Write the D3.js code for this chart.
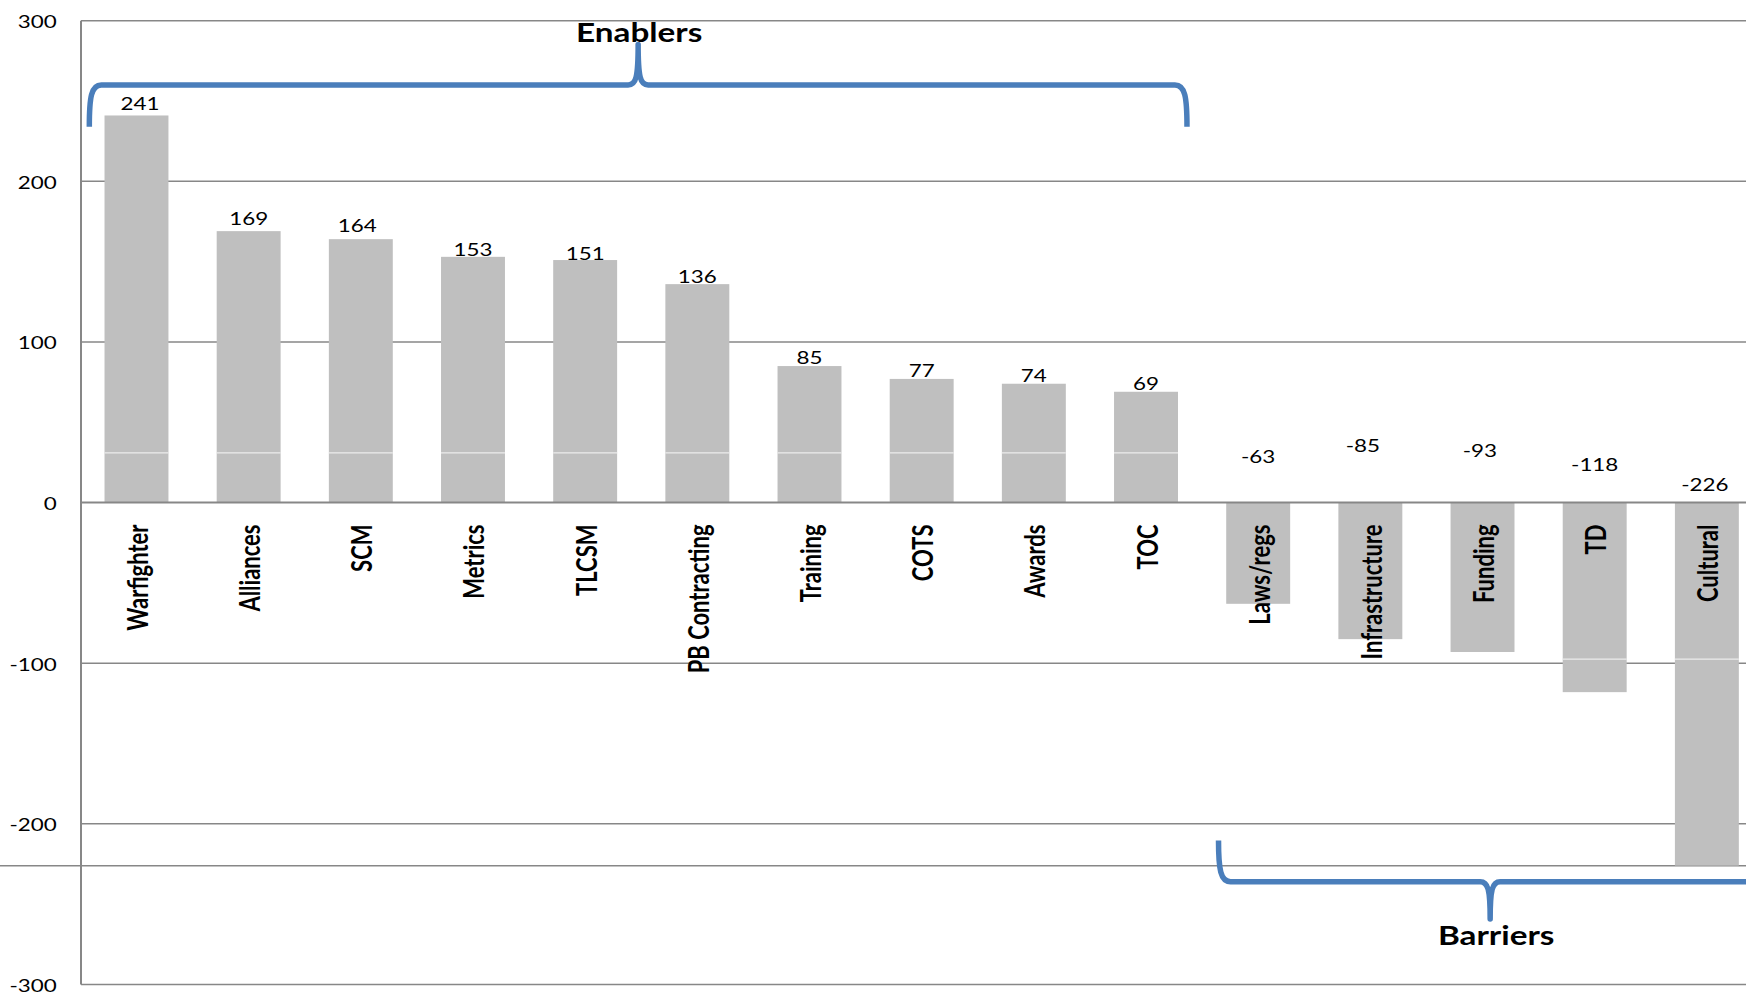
<!DOCTYPE html>
<html>
<head>
<meta charset="utf-8">
<script src="https://cdn.jsdelivr.net/npm/d3@7"></script>
<style>
  html, body { margin: 0; padding: 0; background: #fff; }
  svg { display: block; }
</style>
</head>
<body>
<svg id="chart" width="1746" height="995"></svg>
<script>
// Net score per factor: enablers are positive, barriers negative
const categories = ["Warfighter", "Alliances", "SCM", "Metrics", "TLCSM", "PB Contracting",
  "Training", "COTS", "Awards", "TOC", "Laws/regs", "Infrastructure", "Funding", "TD", "Cultural"];
const values = [241, 169, 164, 153, 151, 136, 85, 77, 74, 69, -63, -85, -93, -118, -226];
const yTicks = [300, 200, 100, 0, -100, -200, -300];

// Bracketed groups
const groupNames = ["Enablers", "Barriers"];
const groupFirst = ["Warfighter", "Laws/regs"];
const groupLast = ["TOC", "Cultural"];

const W = 1746, H = 995;
const STRETCH = 1.28;          // text is drawn horizontally widened
const FONT = "Lato, 'Open Sans', 'DejaVu Sans', sans-serif";
const BAR = "#bfbfbf", GRID = "#878787", BRACE = "#4a7ebb";

const svg = d3.select("#chart");

const step = 112.17, left = 80.4;
const x = d3.scaleBand()
  .domain(categories)
  .range([left, left + categories.length * step])
  .paddingInner(0.43)
  .paddingOuter(0.215);
const bw = x.bandwidth();
const y = d3.scaleLinear().domain([-300, 300]).range([984.5, 20.7]);
const axisX = 81;

// Horizontal gridlines
svg.append("g").selectAll("line")
  .data(yTicks.filter(d => d !== 0))
  .join("line")
  .attr("x1", axisX).attr("x2", W)
  .attr("y1", d => y(d)).attr("y2", d => y(d))
  .attr("stroke", GRID).attr("stroke-width", 1.5);

// Reference line level with the lowest bar, running the full width
const low = d3.min(values);
svg.append("line")
  .attr("x1", 0).attr("x2", W)
  .attr("y1", y(low)).attr("y2", y(low))
  .attr("stroke", GRID).attr("stroke-width", 1.5);

// Bars
const bars = svg.append("g").selectAll("g")
  .data(categories.map((c, i) => ({ c, v: values[i], i })))
  .join("g");

bars.append("rect")
  .attr("x", d => x(d.c))
  .attr("width", bw)
  .attr("y", d => y(Math.max(0, d.v)))
  .attr("height", d => Math.abs(y(d.v) - y(0)))
  .attr("fill", BAR);

// faint light seams across the bars
const seams = [31, -97.5];
bars.each(function (d) {
  const g = d3.select(this);
  seams.filter(s => (s > 0 && d.v > s) || (s < 0 && d.v < s)).forEach(s => {
    g.append("line")
      .attr("x1", x(d.c)).attr("x2", x(d.c) + bw)
      .attr("y1", y(s)).attr("y2", y(s))
      .attr("stroke", "#ececec").attr("stroke-width", 1.2);
  });
});

// Vertical axis and zero line
svg.append("line")
  .attr("x1", axisX).attr("x2", axisX)
  .attr("y1", y(300)).attr("y2", y(-300))
  .attr("stroke", GRID).attr("stroke-width", 2);
svg.append("line")
  .attr("x1", axisX).attr("x2", W)
  .attr("y1", y(0)).attr("y2", y(0))
  .attr("stroke", GRID).attr("stroke-width", 2);

// Y tick labels
const yAxis = d3.axisLeft(y).tickValues(yTicks).tickSize(0).tickPadding(0)
  .tickFormat(d => String(d));
const ga = svg.append("g").attr("transform", `translate(${axisX},0)`).call(yAxis);
ga.select(".domain").remove();
ga.attr("font-family", FONT).attr("font-size", 17.5);
ga.selectAll("text")
  .attr("x", null).attr("dy", null)
  .attr("fill", "#000")
  .attr("text-anchor", "end")
  .attr("transform", `translate(-24.3,7) scale(${STRETCH},1)`);

// Value labels
const posGap = [5, 6, 7.6, 0.5, 0.5, 1, 2, 2, 1.5, 2];
const posShift = [3.5, 0, -3.6, 0, 0, 0, 0, 0, 0, 0];
const negLift = [39.5, 50.5, 45.5, 32, 12];
const negShift = [0, -7.5, -2.6, 0, -2];
let pi = 0, ni = 0;
svg.append("g").selectAll("text")
  .data(categories.map((c, i) => ({ c, v: values[i] })))
  .join("text")
  .attr("transform", d => {
    let cx = x(d.c) + bw / 2, by;
    if (d.v >= 0) { cx += posShift[pi]; by = y(d.v) - posGap[pi]; pi++; }
    else { cx += negShift[ni]; by = y(0) - negLift[ni]; ni++; }
    return `translate(${cx},${by}) scale(${STRETCH},1)`;
  })
  .attr("text-anchor", "middle")
  .attr("font-family", FONT)
  .attr("font-size", 17.5)
  .attr("fill", "#000")
  .text(d => String(d.v));

// Category labels, rotated
svg.append("g").selectAll("text")
  .data(categories)
  .join("text")
  .attr("transform", d => `translate(${x(d) + bw / 2 + 11.5},524.5) rotate(-90) scale(1,${STRETCH})`)
  .attr("text-anchor", "end")
  .attr("font-family", FONT)
  .attr("font-weight", 700)
  .attr("font-size", 22)
  .attr("fill", "#000")
  .text(d => d);

// Curly braces marking the two groups
function bracePath(x0, x1, yLine, yTail, yTip) {
  const d = Math.sign(yTail - yLine), cx = (x0 + x1) / 2, r = 12;
  return [
    `M${x0},${yTail}`,
    `C${x0},${yLine + d * r} ${x0 + 2},${yLine} ${x0 + r},${yLine}`,
    `L${cx - 10},${yLine}`,
    `C${cx - 2},${yLine} ${cx},${yLine - d * 8} ${cx},${yTip}`,
    `C${cx},${yLine - d * 8} ${cx + 2},${yLine} ${cx + 10},${yLine}`,
    `L${x1 - r},${yLine}`,
    `C${x1 - 2},${yLine} ${x1},${yLine + d * r} ${x1},${yTail}`
  ].join(" ");
}

const braceGeom = [
  { x0: x(groupFirst[0]) - 15.2, x1: x(groupLast[0]) + bw + 9,
    line: y(260), tail: y(234), tip: y(285.2), textY: 41.7, textDx: 1 },
  { x0: x(groupFirst[1]) - 7.7, x1: x(groupLast[1]) + bw + 23,
    line: y(-236), tail: y(-210.4), tip: y(-259.2), textY: 945, textDx: 6 }
];

braceGeom.forEach((b, i) => {
  svg.append("path")
    .attr("d", bracePath(b.x0, b.x1, b.line, b.tail, b.tip))
    .attr("fill", "none")
    .attr("stroke", BRACE)
    .attr("stroke-width", 5.5)
    .attr("stroke-linejoin", "round");
  svg.append("text")
    .attr("transform", `translate(${(b.x0 + b.x1) / 2 + b.textDx},${b.textY}) scale(${STRETCH},1)`)
    .attr("text-anchor", "middle")
    .attr("font-family", FONT)
    .attr("font-weight", 700)
    .attr("font-size", 26)
    .attr("fill", "#000")
    .text(groupNames[i]);
});
</script>
</body>
</html>
